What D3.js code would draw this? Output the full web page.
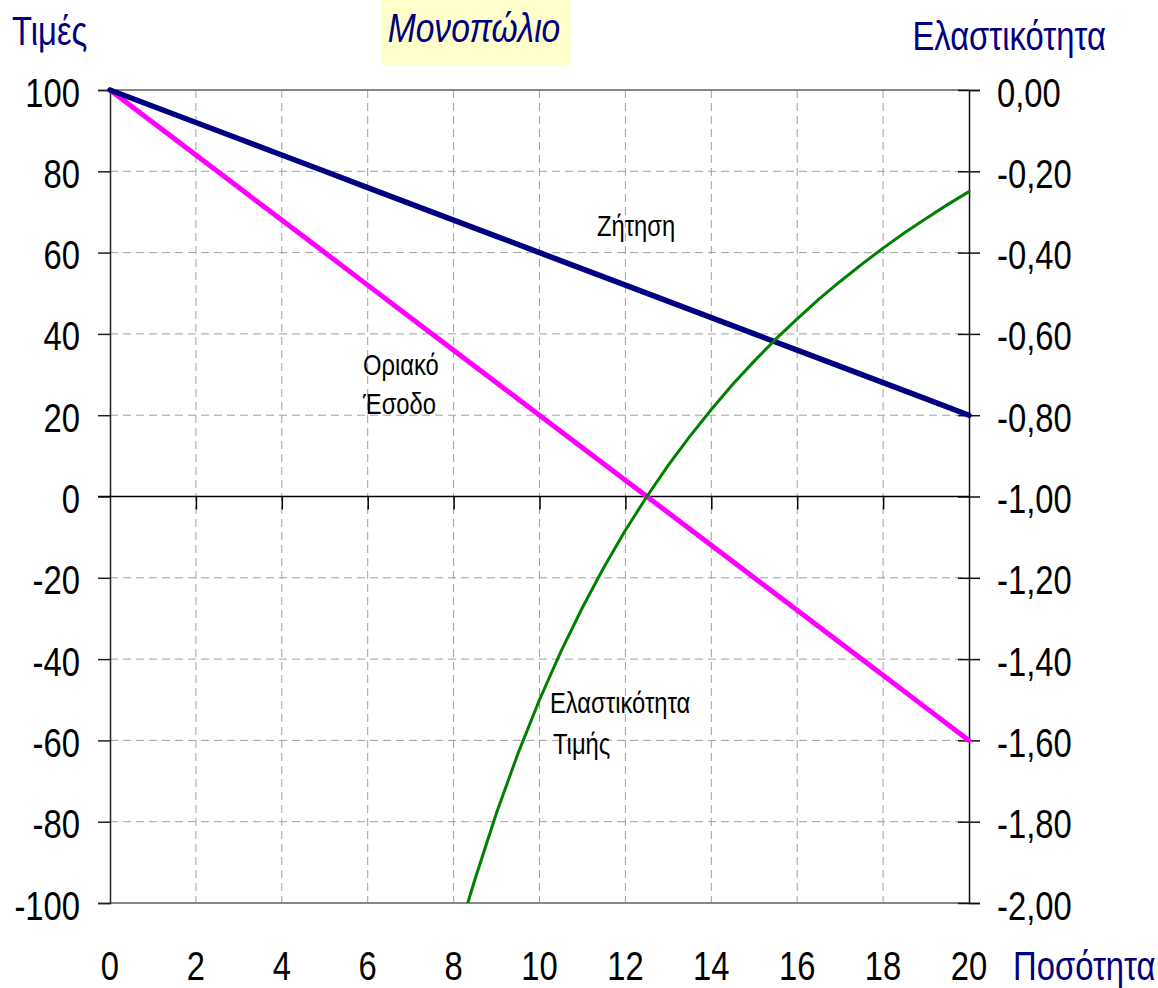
<!DOCTYPE html>
<html>
<head>
<meta charset="utf-8">
<script src="https://cdn.jsdelivr.net/npm/d3@7"></script>
<style>
  html, body { margin: 0; padding: 0; background: #fff; }
  svg { display: block; }
  text { font-family: "Liberation Sans", Arial, sans-serif; }
</style>
</head>
<body>
<svg id="chart" width="1158" height="988"></svg>
<script>
// Quantity axis ticks and left / right axis tick values
const quantityTicks = [0, 2, 4, 6, 8, 10, 12, 14, 16, 18, 20];
const priceTicks = [100, 80, 60, 40, 20, 0, -20, -40, -60, -80, -100];
const elasticityTicks = [0, -0.2, -0.4, -0.6, -0.8, -1.0, -1.2, -1.4, -1.6, -1.8, -2.0];

// Demand (price) and marginal revenue at each quantity
const quantity = [0, 1, 2, 3, 4, 5, 6, 7, 8, 9, 10, 11, 12, 13, 14, 15, 16, 17, 18, 19, 20];
const demand = [100, 96, 92, 88, 84, 80, 76, 72, 68, 64, 60, 56, 52, 48, 44, 40, 36, 32, 28, 24, 20];
const marginalRevenue = [100, 92, 84, 76, 68, 60, 52, 44, 36, 28, 20, 12, 4, -4, -12, -20, -28, -36, -44, -52, -60];

// Price elasticity of demand (right axis)
const elasticityQuantity = [8.33, 8.5, 9, 9.5, 10, 10.5, 11, 11.5, 12, 12.5, 13, 13.5, 14, 14.5, 15, 15.5, 16, 16.5, 17, 17.5, 18, 18.5, 19, 19.5, 20];
const elasticity = [-2.000, -1.941, -1.778, -1.632, -1.500, -1.381, -1.273, -1.174, -1.083, -1.000, -0.923, -0.852, -0.786, -0.724, -0.667, -0.613, -0.563, -0.515, -0.471, -0.429, -0.389, -0.351, -0.316, -0.282, -0.250];

const svg = d3.select("#chart");
const plotLeft = 110, plotRight = 969, plotTop = 90, plotBottom = 903;

const x = d3.scaleLinear().domain([0, 20]).range([plotLeft, plotRight]);
const yL = d3.scaleLinear().domain([-100, 100]).range([plotBottom, plotTop]);
const yR = d3.scaleLinear().domain([-2, 0]).range([plotBottom, plotTop]);

const navy = "#000080";
const squeeze = 0.82;

// Horizontally condense text around its own x anchor (narrow face look)
function condense(sel) {
  sel.each(function () {
    const t = d3.select(this);
    const ax = +t.attr("x") || 0;
    t.attr("transform", `translate(${ax},0) scale(${squeeze},1) translate(${-ax},0)`);
  });
  return sel;
}

// Title box
svg.append("rect").attr("x", 381).attr("y", 0).attr("width", 190).attr("height", 65).attr("fill", "#ffffcc");
svg.append("text").attr("x", 474).attr("y", 42).attr("text-anchor", "middle")
  .attr("font-size", 41).attr("font-style", "italic").attr("fill", navy).text("Μονοπώλιο").call(condense);

// Axis titles
svg.append("text").attr("x", 12).attr("y", 45).attr("font-size", 40).attr("fill", navy).text("Τιμές").call(condense);
svg.append("text").attr("x", 1106).attr("y", 50).attr("text-anchor", "end").attr("font-size", 40).attr("fill", navy).text("Ελαστικότητα").call(condense);
svg.append("text").attr("x", 1013).attr("y", 980).attr("font-size", 40).attr("fill", navy).text("Ποσότητα").call(condense);

// Dashed grid
const grid = svg.append("g").attr("stroke", "#a0a0a0").attr("stroke-width", 1).attr("stroke-dasharray", "8,5");
grid.selectAll("line.v").data(quantityTicks.filter(d => d > 0 && d < 20)).join("line")
  .attr("class", "v").attr("x1", d => x(d)).attr("x2", d => x(d)).attr("y1", plotTop).attr("y2", plotBottom);
grid.selectAll("line.h").data(priceTicks.filter(d => d !== 0 && d !== 100 && d !== -100)).join("line")
  .attr("class", "h").attr("x1", plotLeft).attr("x2", plotRight).attr("y1", d => yL(d)).attr("y2", d => yL(d));

// Plot frame: top and bottom edges
svg.append("line").attr("x1", plotLeft).attr("x2", plotRight).attr("y1", plotTop).attr("y2", plotTop).attr("stroke", "#888").attr("stroke-width", 2);
svg.append("line").attr("x1", plotLeft).attr("x2", plotRight).attr("y1", plotBottom).attr("y2", plotBottom).attr("stroke", "#888").attr("stroke-width", 2);

// Left axis
const leftAxis = d3.axisLeft(yL).tickValues(priceTicks).tickSize(12).tickPadding(18)
  .tickFormat(d => d < 0 ? "-" + Math.abs(d) : String(d));
const gL = svg.append("g").attr("transform", `translate(${plotLeft},0)`).call(leftAxis);
gL.select(".domain").attr("stroke", "#222").attr("stroke-width", 1.5);
gL.selectAll(".tick line").attr("stroke", "#222").attr("stroke-width", 1.5);
gL.selectAll(".tick text").attr("font-size", 40).attr("fill", "#000").attr("dy", "0.4em")
  .attr("font-family", "Liberation Sans, Arial, sans-serif").call(condense);

// Right axis (ticks crossing the axis line)
const fmtR = d => (d < 0 ? "-" : "") + Math.abs(d).toFixed(2).replace(".", ",");
const rightAxis = d3.axisRight(yR).tickValues(elasticityTicks).tickSize(11).tickPadding(17).tickFormat(fmtR);
const gR = svg.append("g").attr("transform", `translate(${plotRight},0)`).call(rightAxis);
gR.select(".domain").attr("stroke", "#111").attr("stroke-width", 1.5);
gR.selectAll(".tick line").attr("x1", -11).attr("stroke", "#111").attr("stroke-width", 1.5);
gR.selectAll(".tick text").attr("font-size", 40).attr("fill", "#000").attr("dy", "0.4em")
  .attr("font-family", "Liberation Sans, Arial, sans-serif").call(condense);

// Horizontal zero line with downward quantity ticks
const xAxis = d3.axisBottom(x).tickValues(quantityTicks.filter(d => d > 0 && d < 20)).tickSize(13).tickFormat("");
const gX = svg.append("g").attr("transform", `translate(0,${yL(0)})`).call(xAxis);
gX.select(".domain").attr("stroke", "#000").attr("stroke-width", 1.3).attr("d", `M${plotLeft - 12},0H${plotRight}`);
gX.selectAll(".tick line").attr("stroke", "#000").attr("stroke-width", 1.5);

// Quantity labels below the plot
svg.append("g").selectAll("text").data(quantityTicks).join("text")
  .attr("x", d => x(d)).attr("y", 980).attr("text-anchor", "middle")
  .attr("font-size", 40).attr("fill", "#000").text(d => d).call(condense);

// Curves
svg.append("clipPath").attr("id", "plot-clip").append("rect")
  .attr("x", plotLeft - 5).attr("y", plotTop - 5).attr("width", plotRight - plotLeft + 10).attr("height", plotBottom - plotTop + 5);
const curves = svg.append("g").attr("clip-path", "url(#plot-clip)").attr("fill", "none")
  .attr("stroke-linejoin", "round").attr("stroke-linecap", "round");

const lineL = d3.line().x((d, i) => x(quantity[i])).y(d => yL(d));
curves.append("path").datum(marginalRevenue).attr("d", lineL).attr("stroke", "#ff00ff").attr("stroke-width", 5);
curves.append("path").datum(demand).attr("d", lineL).attr("stroke", navy).attr("stroke-width", 5.5);

const lineR = d3.line().x((d, i) => x(elasticityQuantity[i])).y(d => yR(d));
curves.append("path").datum(elasticity).attr("d", lineR).attr("stroke", "#008000").attr("stroke-width", 3);

// Curve annotations
const note = svg.append("g").attr("font-size", 29).attr("fill", "#000");
note.append("text").attr("x", 597).attr("y", 236).text("Ζήτηση");
note.append("text").attr("x", 363).attr("y", 375).text("Οριακό");
note.append("text").attr("x", 363).attr("y", 414).text("Έσοδο");
note.append("text").attr("x", 550).attr("y", 713).text("Ελαστικότητα");
note.append("text").attr("x", 553).attr("y", 754).text("Τιμής");
note.selectAll("text").call(condense);
</script>
</body>
</html>
